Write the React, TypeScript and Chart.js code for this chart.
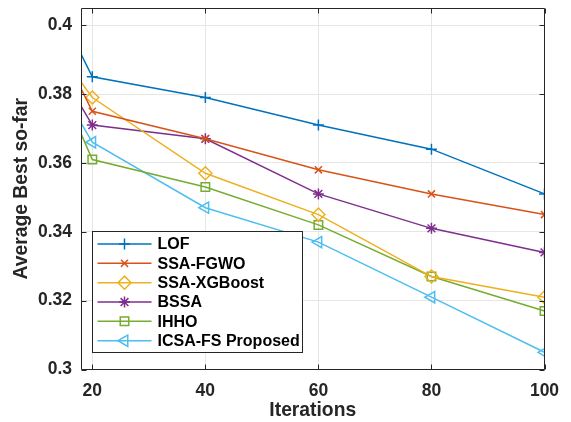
import React, { useEffect, useRef } from 'react';
import { Chart, registerables } from 'chart.js';
import { drawPoint } from 'chart.js/helpers';

Chart.register(...registerables);

const xStart = 18;
const iterations = [20, 40, 60, 80, 100];
const xTickValues = [20, 40, 60, 80, 100];
const yTickValues = [0.3, 0.32, 0.34, 0.36, 0.38, 0.4];
const yTickLabels = ['0.3', '0.32', '0.34', '0.36', '0.38', '0.4'];

const seriesNames = ['LOF', 'SSA-FGWO', 'SSA-XGBoost', 'BSSA', 'IHHO', 'ICSA-FS Proposed'];
const lofValues = [0.3916, 0.385, 0.379, 0.371, 0.364, 0.351];
const fgwoValues = [0.3816, 0.375, 0.367, 0.358, 0.351, 0.345];
const xgbValues = [0.3835, 0.379, 0.357, 0.345, 0.327, 0.321];
const bssaValues = [0.3765, 0.371, 0.367, 0.351, 0.341, 0.334];
const ihhoValues = [0.3685, 0.361, 0.353, 0.342, 0.327, 0.317];
const icsaValues = [0.3716, 0.366, 0.347, 0.337, 0.321, 0.305];

const colors = ['#0072BD', '#D95319', '#EDB120', '#7E2F8E', '#77AC30', '#4DBEEE'];
const styles = ['cross', 'crossRot', 'rectRot', 'star', 'rect', 'triangle'];
const radii = [5.5, 5, 6.5, 5.5, 6, 6.5];
const rotations = [0, 0, 0, 0, 0, -90];

const allValues = [lofValues, fgwoValues, xgbValues, bssaValues, ihhoValues, icsaValues];

const FONT = "'Liberation Sans', Arial, Helvetica, sans-serif";
const AXIS_COLOR = '#262626';

const boxPlugin = {
  id: 'matlabBox',
  afterDatasetsDraw(chart: any) {
    const { ctx, chartArea } = chart;
    const l = Math.round(chartArea.left) + 0.5;
    const r = Math.round(chartArea.right) - 0.5;
    const t = Math.round(chartArea.top) + 0.5;
    const b = Math.round(chartArea.bottom) - 0.5;
    ctx.save();
    ctx.strokeStyle = AXIS_COLOR;
    ctx.lineWidth = 1;
    ctx.beginPath();
    ctx.rect(l, t, r - l, b - t);
    ctx.stroke();
    const xs = chart.scales.x;
    const ys = chart.scales.y;
    const tl = 5;
    ctx.beginPath();
    xTickValues.forEach((v) => {
      const px = Math.round(xs.getPixelForValue(v)) + 0.5;
      ctx.moveTo(px, b);
      ctx.lineTo(px, b - tl);
      ctx.moveTo(px, t);
      ctx.lineTo(px, t + tl);
    });
    yTickValues.forEach((v) => {
      const py = Math.round(ys.getPixelForValue(v)) + 0.5;
      ctx.moveTo(l, py);
      ctx.lineTo(l + tl, py);
      ctx.moveTo(r, py);
      ctx.lineTo(r - tl, py);
    });
    ctx.stroke();
    ctx.restore();
  },
};

const legendPlugin = {
  id: 'matlabLegend',
  afterDraw(chart: any) {
    const { ctx } = chart;
    const bx = 92.5;
    const by = 231.5;
    const bw = 210;
    const bh = 121;
    ctx.save();
    ctx.fillStyle = '#ffffff';
    ctx.fillRect(bx, by, bw, bh);
    ctx.strokeStyle = AXIS_COLOR;
    ctx.lineWidth = 1;
    ctx.strokeRect(bx, by, bw, bh);
    const rowStart = 244;
    const rowGap = 19.34;
    seriesNames.forEach((name, i) => {
      const y = rowStart + i * rowGap;
      ctx.strokeStyle = colors[i];
      ctx.lineWidth = 1.5;
      ctx.beginPath();
      ctx.moveTo(97.5, y);
      ctx.lineTo(151.5, y);
      ctx.stroke();
      ctx.fillStyle = 'rgba(0,0,0,0)';
      drawPoint(ctx, { pointStyle: styles[i], radius: radii[i], rotation: rotations[i], borderWidth: 1.5 } as any, 124.5, y);
      ctx.fillStyle = '#000000';
      ctx.font = `bold 16px ${FONT}`;
      ctx.textAlign = 'left';
      ctx.textBaseline = 'middle';
      ctx.fillText(name, 157.5, y + 1);
    });
    ctx.restore();
  },
};

export default function App() {
  const canvasRef = useRef<HTMLCanvasElement | null>(null);

  useEffect(() => {
    if (!canvasRef.current) return;
    const xs = [xStart, ...iterations];
    const datasets = allValues.map((vals, i) => ({
      label: seriesNames[i],
      data: vals.map((v, j) => ({ x: xs[j], y: v })),
      borderColor: colors[i],
      backgroundColor: 'rgba(0,0,0,0)',
      borderWidth: 1.5,
      pointStyle: styles[i],
      pointRadius: vals.map((_, j) => (j === 0 ? 0 : radii[i])),
      pointRotation: rotations[i],
      pointBorderColor: colors[i],
      pointBackgroundColor: 'rgba(0,0,0,0)',
      pointBorderWidth: 1.5,
      tension: 0,
      fill: false,
    }));

    const chart = new Chart(canvasRef.current, {
      type: 'line',
      data: { datasets },
      plugins: [boxPlugin, legendPlugin],
      options: {
        animation: false,
        responsive: false,
        maintainAspectRatio: false,
        layout: { padding: { left: 0, right: 26.5, top: 6, bottom: 0 } },
        plugins: { legend: { display: false }, tooltip: { enabled: false } },
        scales: {
          x: {
            type: 'linear',
            min: 18,
            max: 100,
            afterBuildTicks: (s: any) => {
              s.ticks = xTickValues.map((v) => ({ value: v }));
            },
            afterFit: (s: any) => {
              s.height = 52.5;
              s.paddingLeft = 0;
              s.paddingRight = 0;
            },
            ticks: {
              autoSkip: false,
              maxRotation: 0,
              padding: 11,
              color: AXIS_COLOR,
              font: { family: FONT, size: 17.5, weight: 'bold' },
              callback: (v: any) => String(v),
            },
            grid: { color: '#e6e6e6', drawTicks: false, lineWidth: 1 },
            border: { display: false },
            title: {
              display: true,
              text: 'Iterations',
              color: AXIS_COLOR,
              font: { family: FONT, size: 19.3, weight: 'bold' },
              padding: { top: 0, bottom: 0 },
            },
          },
          y: {
            type: 'linear',
            min: 0.3,
            max: 0.405,
            afterBuildTicks: (s: any) => {
              s.ticks = yTickValues.map((v) => ({ value: v }));
            },
            afterFit: (s: any) => {
              s.width = 81;
              s.paddingTop = 0;
              s.paddingBottom = 0;
            },
            ticks: {
              autoSkip: false,
              padding: 9,
              color: AXIS_COLOR,
              font: { family: FONT, size: 17.5, weight: 'bold' },
              callback: (v: any) => {
                const idx = yTickValues.indexOf(v);
                return idx >= 0 ? yTickLabels[idx] : '';
              },
            },
            grid: { color: '#e6e6e6', drawTicks: false, lineWidth: 1 },
            border: { display: false },
            title: {
              display: true,
              text: 'Average Best so-far',
              color: AXIS_COLOR,
              font: { family: FONT, size: 19.3, weight: 'bold' },
              padding: { top: 10, bottom: 0 },
            },
          },
        },
      },
    });
    return () => chart.destroy();
  }, []);

  return (
    <div style={{ position: 'fixed', left: 0, top: 0, width: 571, height: 422, background: '#fff' }}>
      <canvas ref={canvasRef} width={571} height={422} style={{ width: 571, height: 422, display: 'block' }} />
    </div>
  );
}
